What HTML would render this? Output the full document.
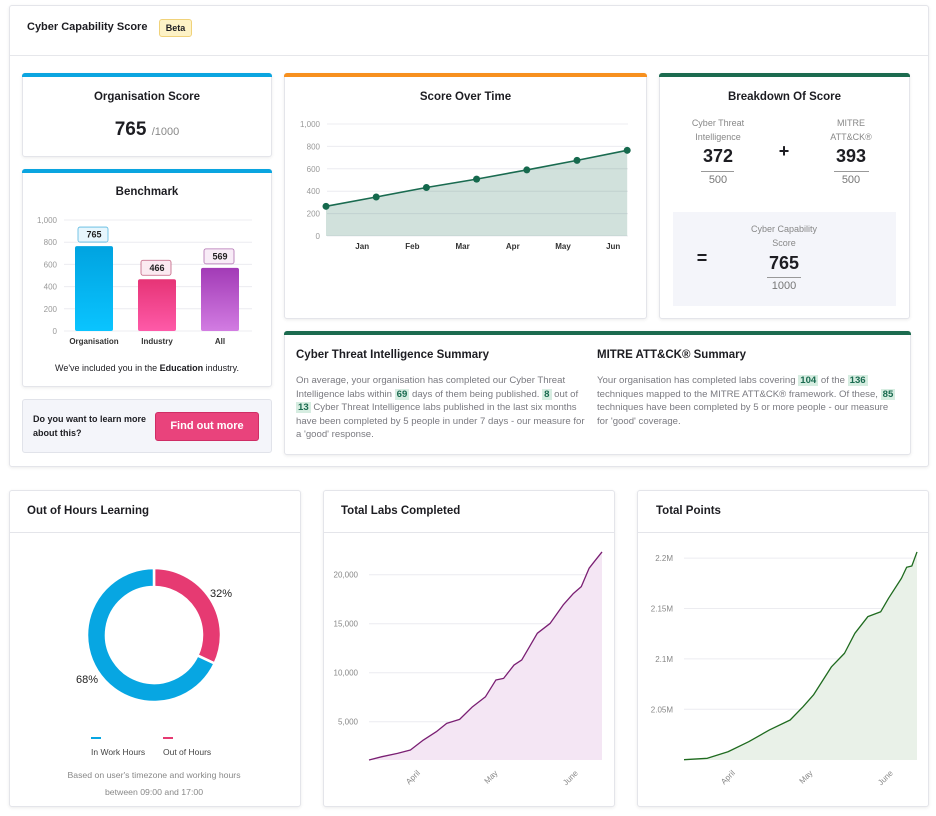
<!DOCTYPE html>
<html><head><meta charset="utf-8">
<style>
*{box-sizing:border-box;margin:0;padding:0}
body{width:936px;height:816px;background:#fff;font-family:"Liberation Sans",sans-serif;color:#1d1d22;position:relative;overflow:hidden}
.abs{position:absolute}
.card{position:absolute;background:#fff;border:1px solid #e4e5ea;border-radius:3px;box-shadow:0 1px 3px rgba(0,0,0,.08)}
.bar{position:absolute;left:-1px;right:-1px;top:-1px;height:4px;border-radius:3px 3px 0 0}
.t{position:absolute;font-weight:bold;font-size:11.5px;white-space:nowrap}
.c{text-align:center}
.p{position:absolute;font-size:9.6px;line-height:13.5px;color:#7a7a80}
.hl{background:#d6ede1;color:#1a6b50;font-weight:bold;padding:0 2px}
.small{position:absolute;font-size:9px;color:#888;text-align:center;line-height:13.5px}
</style></head><body>

<div class="card" style="left:9px;top:5px;width:920px;height:462px"></div>
<div class="abs" style="left:10px;top:55px;width:918px;height:1px;background:#e6e7eb"></div>
<div class="t" style="left:27px;top:21px;font-size:11px">Cyber Capability Score</div>
<div class="abs" style="left:159px;top:19px;width:33px;height:18px;background:#fdf2c6;border:1px solid #f0d27a;border-radius:3px;font-size:9px;font-weight:bold;text-align:center;line-height:16px">Beta</div>

<div class="card" style="left:22px;top:73px;width:250px;height:84px"><div class="bar" style="background:#0ba5e0"></div></div>
<div class="t c" style="left:22px;top:91px;width:250px">Organisation Score</div>
<div class="abs c" style="left:22px;top:119px;width:250px;font-size:19px;font-weight:bold">765 <span style="font-size:11px;font-weight:normal;color:#888">/1000</span></div>

<div class="card" style="left:22px;top:169px;width:250px;height:218px"><div class="bar" style="background:#0ba5e0"></div></div>
<div class="t c" style="left:22px;top:186px;width:250px">Benchmark</div>
<div class="abs c" style="left:22px;top:363px;width:250px;font-size:9px">We've included you in the <b>Education</b> industry.</div>

<div class="abs" style="left:22px;top:399px;width:250px;height:54px;background:#f4f5fa;border:1px solid #e1e3ea;border-radius:3px"></div>
<div class="abs" style="left:33px;top:413px;font-size:9px;font-weight:bold;line-height:13.5px">Do you want to learn more<br>about this?</div>
<div class="abs c" style="left:155px;top:412px;width:104px;height:29px;background:#e9437c;border:1px solid #cf2d65;border-radius:3px;color:#fff;font-weight:bold;font-size:11px;line-height:27px">Find out more</div>

<div class="card" style="left:284px;top:73px;width:363px;height:246px"><div class="bar" style="background:#f7901e"></div></div>
<div class="t c" style="left:284px;top:91px;width:363px">Score Over Time</div>

<div class="card" style="left:659px;top:73px;width:251px;height:246px"><div class="bar" style="background:#1c6b4f"></div></div>
<div class="t c" style="left:659px;top:91px;width:251px">Breakdown Of Score</div>
<div class="small" style="left:668px;top:117px;width:100px">Cyber Threat<br>Intelligence</div>
<div class="abs c" style="left:668px;top:146px;width:100px;font-size:18px;font-weight:bold">372</div>
<div class="abs" style="left:701px;top:171px;width:33px;height:1px;background:#999"></div>
<div class="abs c" style="left:668px;top:174px;width:100px;font-size:11px;color:#777">500</div>
<div class="abs c" style="left:774px;top:141px;width:20px;font-size:18px;font-weight:bold">+</div>
<div class="small" style="left:801px;top:117px;width:100px">MITRE<br>ATT&amp;CK®</div>
<div class="abs c" style="left:801px;top:146px;width:100px;font-size:18px;font-weight:bold">393</div>
<div class="abs" style="left:834px;top:171px;width:35px;height:1px;background:#999"></div>
<div class="abs c" style="left:801px;top:174px;width:100px;font-size:11px;color:#777">500</div>
<div class="abs" style="left:673px;top:212px;width:223px;height:94px;background:#f4f5fa"></div>
<div class="abs c" style="left:692px;top:248px;width:20px;font-size:18px;font-weight:bold">=</div>
<div class="small" style="left:734px;top:223px;width:100px">Cyber Capability<br>Score</div>
<div class="abs c" style="left:734px;top:253px;width:100px;font-size:18px;font-weight:bold">765</div>
<div class="abs" style="left:767px;top:277px;width:34px;height:1px;background:#999"></div>
<div class="abs c" style="left:734px;top:280px;width:100px;font-size:11px;color:#777">1000</div>

<div class="card" style="left:284px;top:331px;width:627px;height:124px"><div class="bar" style="background:#1c6b4f"></div></div>
<div class="t" style="left:296px;top:349px">Cyber Threat Intelligence Summary</div>
<div class="t" style="left:597px;top:349px">MITRE ATT&amp;CK® Summary</div>
<div class="p" style="left:296px;top:374px;width:294px">On average, your organisation has completed our Cyber Threat Intelligence labs within <span class="hl">69</span> days of them being published. <span class="hl">8</span> out of <span class="hl">13</span> Cyber Threat Intelligence labs published in the last six months have been completed by 5 people in under 7 days - our measure for a 'good' response.</div>
<div class="p" style="left:597px;top:374px;width:302px">Your organisation has completed labs covering <span class="hl">104</span> of the <span class="hl">136</span> techniques mapped to the MITRE ATT&amp;CK® framework. Of these, <span class="hl">85</span> techniques have been completed by 5 or more people - our measure for 'good' coverage.</div>

<div class="card" style="left:9px;top:490px;width:292px;height:317px"></div>
<div class="card" style="left:323px;top:490px;width:292px;height:317px"></div>
<div class="card" style="left:637px;top:490px;width:292px;height:317px"></div>
<div class="abs" style="left:10px;top:532px;width:290px;height:1px;background:#e4e5ea"></div>
<div class="abs" style="left:324px;top:532px;width:290px;height:1px;background:#e4e5ea"></div>
<div class="abs" style="left:638px;top:532px;width:290px;height:1px;background:#e4e5ea"></div>
<div class="t" style="left:27px;top:505px">Out of Hours Learning</div>
<div class="t" style="left:341px;top:505px">Total Labs Completed</div>
<div class="t" style="left:656px;top:505px">Total Points</div>
<div class="small" style="left:29px;top:767px;width:250px;font-size:8.7px;line-height:17px">Based on user's timezone and working hours<br>between 09:00 and 17:00</div>

<svg id="chart" width="936" height="816" style="position:absolute;left:0;top:0;font-family:'Liberation Sans',sans-serif">
<defs>
<linearGradient id="gOrg" x1="0" y1="0" x2="0" y2="1"><stop offset="0" stop-color="#00a3e0"/><stop offset="1" stop-color="#0ac4ff"/></linearGradient>
<linearGradient id="gInd" x1="0" y1="0" x2="0" y2="1"><stop offset="0" stop-color="#e63476"/><stop offset="1" stop-color="#fe5aa8"/></linearGradient>
<linearGradient id="gAll" x1="0" y1="0" x2="0" y2="1"><stop offset="0" stop-color="#a23bb6"/><stop offset="1" stop-color="#d27ce2"/></linearGradient>
</defs>
</svg>

<script>
const benchCats = ["Organisation","Industry","All"];
const benchVals = [765,466,569];
const benchTicks = [0,200,400,600,800,1000];
const sotLabels = ["","Jan","Feb","Mar","Apr","May","Jun"];
const sotVals = [265,348,433,508,590,675,765];
const sotTicks = [0,200,400,600,800,1000];
const hoursCats = ["In Work Hours","Out of Hours"];
const hoursVals = [68,32];
const labsDays = [0,5,11,16,21,26,30,35,40,45,49,52,56,59,62,65,70,75,79,82,85,87,90];
const labsVals = [1090,1430,1770,2110,3130,3980,4830,5240,6530,7550,9250,9420,10780,11300,12650,14020,15040,16910,18100,18780,20650,21330,22320];
const labsTicks = [5000,10000,15000,20000];
const labsTickLabels = ["5,000","10,000","15,000","20,000"];
const ptsDays = [0,9,17,25,33,41,46,50,57,62,66,71,76,79,84,86,88,90];
const ptsVals = [2.0,2.0014,2.0079,2.0179,2.0295,2.0394,2.0526,2.0642,2.0923,2.1056,2.1254,2.1419,2.1468,2.1601,2.18,2.1909,2.1922,2.2061];
const ptsTicks = [2.05,2.1,2.15,2.2];
const ptsTickLabels = ["2.05M","2.1M","2.15M","2.2M"];
const monthNames = ["April","May","June"];
const monthDays = [19,49,80];

const NS="http://www.w3.org/2000/svg";
const svg=document.getElementById('chart');
function mk(tag,attrs,parent){const e=document.createElementNS(NS,tag);for(const k in attrs)e.setAttribute(k,attrs[k]);(parent||svg).appendChild(e);return e;}
function txt(x,y,s,attrs){const e=mk('text',Object.assign({x:x,y:y},attrs||{}));e.textContent=s;return e;}

(function(){
  const y=v=>331-v*0.111, x0=64, bw=38, step=63, first=75;
  const g=mk('g',{});
  
  
  benchTicks.forEach(t=>{
    const l=mk('line',{x1:x0,x2:252,y1:y(t),y2:y(t),stroke:'#ececf0'},g);
    
    
    const tl=txt(57,y(t)+3,t.toLocaleString('en-US'),{'font-size':8,fill:'#999','text-anchor':'end'});
    
    
  });
  const fills=['url(#gOrg)','url(#gInd)','url(#gAll)'];
  const lblBg=['#e7f6fd','#fbeaf1','#f8ecf7'], lblBd=['#59b8e0','#c0607f','#b06fb0'];
  benchVals.forEach((v,i)=>{
    const bx=first+i*step;
    const r=mk('rect',{x:bx,y:y(v),width:bw,height:v*0.111,rx:2,fill:fills[i]},g);
    
    
    const lb=mk('rect',{x:bx+3,y:y(v)-19,width:30,height:15,rx:2,fill:lblBg[i],stroke:lblBd[i],'stroke-width':0.8},g);
    
    
    const vt=txt(bx+bw/2,y(v)-8.5,String(v),{'font-size':9,'font-weight':'bold','text-anchor':'middle',fill:'#222'});
    
    
    const ct=txt(bx+bw/2,344,benchCats[i],{'font-size':8,'font-weight':'bold','text-anchor':'middle',fill:'#333'});
    
    
  });
})();

(function(){
  const y=v=>236-v*0.112, x=i=>326+i*50.2;
  sotTicks.forEach(t=>{
    const l=mk('line',{x1:327,x2:628,y1:y(t),y2:y(t),stroke:'#ececf0'});
    
    
    const tl=txt(320,y(t)+3,t.toLocaleString('en-US'),{'font-size':8,fill:'#999','text-anchor':'end'});
    
    
  });
  let d='M'+x(0)+','+y(0);
  sotVals.forEach((v,i)=>d+=' L'+x(i)+','+y(v));
  d+=' L'+x(sotVals.length-1)+','+y(0)+'Z';
  const a=mk('path',{d:d,fill:'#1a6b50','fill-opacity':0.2});
  
  
  const ln=mk('polyline',{points:sotVals.map((v,i)=>x(i)+','+y(v)).join(' '),fill:'none',stroke:'#1a6b50','stroke-width':1.6});
  
  
  sotVals.forEach((v,i)=>{
    const c=mk('circle',{cx:x(i),cy:y(v),r:3.5,fill:'#15694d'});
    
    
  });
  sotLabels.forEach((s,i)=>{
    if(!s)return;
    const t=txt(x(i)-14,249,s,{'font-size':8,'font-weight':'bold','text-anchor':'middle',fill:'#333'});
    
    
  });
})();

(function(){
  const cx=154,cy=635,R=67,r=48;
  const total=hoursVals.reduce((a,b)=>a+b,0);
  const cols=['#07a6e2','#e63a72'];
  const order=[1,0];
  let ang=0;
  order.forEach(i=>{
    const a0=ang, a1=ang+hoursVals[i]/total*2*Math.PI; ang=a1;
    const pt=(rad,a)=>[cx+rad*Math.sin(a),cy-rad*Math.cos(a)];
    const large=(a1-a0)>Math.PI?1:0;
    const p1=pt(R,a0),p2=pt(R,a1),p3=pt(r,a1),p4=pt(r,a0);
    const p=mk('path',{d:`M${p1} A${R},${R} 0 ${large} 1 ${p2} L${p3} A${r},${r} 0 ${large} 0 ${p4}Z`,fill:cols[i],stroke:'#fff','stroke-width':2.5});
    
    
  });
  const t1=txt(221,597,hoursVals[1]+'%',{'font-size':11,fill:'#222','text-anchor':'middle'});
  
  
  const t2=txt(87,683,hoursVals[0]+'%',{'font-size':11,fill:'#222','text-anchor':'middle'});
  
  
  const lx=[91,163];
  hoursCats.forEach((c,i)=>{
    const l=mk('rect',{x:lx[i],y:737,width:10,height:2,fill:cols[i]});
    
    
    const t=txt(lx[i],755,c,{'font-size':8.5,fill:'#444'});
    
    
  });
})();

function areaChart(opt){
  const {days,vals,ticks,tickLabels,x0,x1,maxDay,yScale,color,fill,name,labelX}=opt;
  const x=d=>x0+d/maxDay*(x1-x0);
  ticks.forEach((t,i)=>{
    const l=mk('line',{x1:x0,x2:x1,y1:yScale(t),y2:yScale(t),stroke:'#ececf0'});
    
    
    const tl=txt(labelX,yScale(t)+3,tickLabels[i],{'font-size':8,fill:'#888','text-anchor':'end'});
    
    
  });
  const bottom=760;
  let d='M'+x(days[0])+','+bottom;
  days.forEach((dd,i)=>d+=' L'+x(dd)+','+yScale(vals[i]));
  d+=' L'+x(days[days.length-1])+','+bottom+'Z';
  const a=mk('path',{d:d,fill:fill});
  
  
  const ln=mk('polyline',{points:days.map((dd,i)=>x(dd)+','+yScale(vals[i])).join(' '),fill:'none',stroke:color,'stroke-width':1.3,'stroke-linejoin':'round'});
  
  
  monthNames.forEach((m,i)=>{
    const mx=x(monthDays[i]);
    const t=txt(mx,772,m,{'font-size':8,fill:'#888','text-anchor':'end',transform:`rotate(-45 ${mx+3} 770)`});
    
    
  });
}
areaChart({days:labsDays,vals:labsVals,ticks:labsTicks,tickLabels:labsTickLabels,x0:369,x1:602,maxDay:90,
  yScale:v=>770.7-v*49/5000,color:'#7a1f73',fill:'#f4e6f4',name:'labs',labelX:358});
areaChart({days:ptsDays,vals:ptsVals,ticks:ptsTicks,tickLabels:ptsTickLabels,x0:684,x1:917,maxDay:90,
  yScale:v=>709.3-(v-2.05)*50.4/0.05,color:'#1f6b1f',fill:'#e9f1e8',name:'points',labelX:673});
</script>
</body></html>
